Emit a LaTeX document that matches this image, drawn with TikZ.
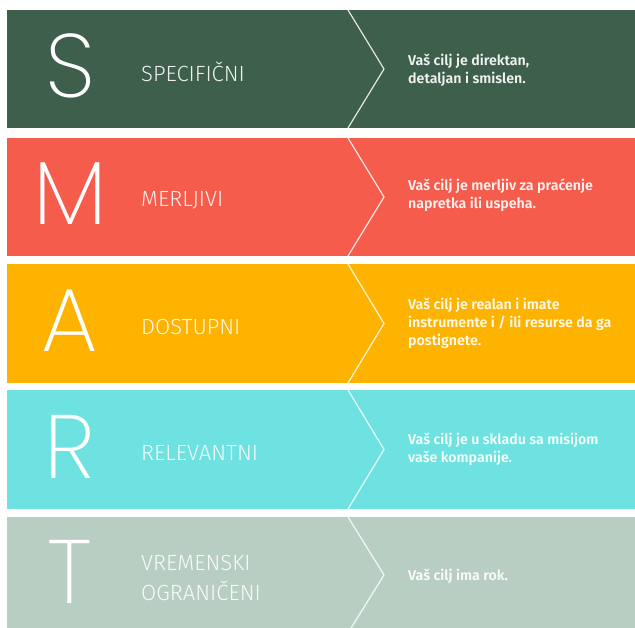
\documentclass[tikz,border=0pt]{standalone}
\usepackage{fontspec}
% thin face for the big letters
\IfFontExistsTF{Poppins ExtraLight}{\newfontfamily\thinf{Poppins ExtraLight}}{%
 \IfFontExistsTF{Poppins Light}{\newfontfamily\thinf{Poppins Light}}{%
  \IfFontExistsTF{Lato Light}{\newfontfamily\thinf{Lato Light}}{%
   \IfFontExistsTF{Fira Sans Light}{\newfontfamily\thinf{Fira Sans Light}}{%
    \IfFontExistsTF{Open Sans Light}{\newfontfamily\thinf{Open Sans Light}}{%
     \newfontfamily\thinf{Fira Sans}}}}}}
% thin face for the band names
\IfFontExistsTF{Fira Sans Light}{\newfontfamily\labf{Fira Sans Light}}{%
 \IfFontExistsTF{Lato Light}{\newfontfamily\labf{Lato Light}}{%
  \IfFontExistsTF{Open Sans Light}{\newfontfamily\labf[FakeStretch=0.9]{Open Sans Light}}{%
   \newfontfamily\labf{Fira Sans}}}}
% semibold face for the descriptions
\IfFontExistsTF{Fira Sans SemiBold}{\newfontfamily\descf{Fira Sans SemiBold}\def\descsel{\descf}}{%
 \newfontfamily\descf{Fira Sans}\def\descsel{\descf\bfseries}}
\definecolor{cS}{HTML}{3E5F4C}
\definecolor{cM}{HTML}{F65C4B}
\definecolor{cA}{HTML}{FDB300}
\definecolor{cR}{HTML}{6DE2E0}
\definecolor{cT}{HTML}{B8CEC2}
\tikzset{
  chev/.style={draw=white, line width=1.2pt, opacity=0.85},
  bigletter/.style={inner sep=0pt, text=white, font=\thinf\fontsize{90}{90}\selectfont},
  bandlabel/.style={inner sep=0pt, anchor=west, align=left, text=white, text opacity=0.9,
    font=\labf\fontsize{22}{30}\selectfont},
  bandtext/.style={inner sep=0pt, anchor=west, align=left, text=white, text opacity=0.92,
    font=\descsel\fontsize{14.2}{18}\selectfont},
}
\newcommand\smartband[9]{% id, colour, top, bottom, chevron bottom, letter, label, text, text shift
  \fill[#2] (7,#3) rectangle (640,#4);
  \pgfmathsetmacro\bmid{(#3+#5)/2}
  \coordinate (#1a) at (348,#3);
  \coordinate (#1b) at (384,\bmid);
  \coordinate (#1c) at (348,#5);
  \draw[chev] (#1a) -- (#1b) -- (#1c);
  \node[bigletter] (#1L) at (70,\bmid-3) {#6};
  \node[bandlabel] (#1N) at (141,\bmid+3) {#7};
  \node[bandtext] (#1D) at (408,\bmid+#9) {#8};
}
\begin{document}
\begin{tikzpicture}[x=1pt,y=-1pt]
\fill[white] (0,0) rectangle (635,628);
\useasboundingbox (0,0) rectangle (635,628);
\smartband{s}{cS}{10}{128}{128}{S}{SPECIFIČNI}{Vaš cilj je direktan,\\detaljan i smislen.}{1}
\smartband{m}{cM}{138}{256}{256}{M}{MERLJIVI}{Vaš cilj je merljiv za praćenje\\napretka ili uspeha.}{-2}
\smartband{a}{cA}{264}{383}{383}{A}{DOSTUPNI}{Vaš cilj je realan i imate\\instrumente i / ili resurse da ga\\postignete.}{0}
\smartband{r}{cR}{390}{509}{509}{R}{RELEVANTNI}{Vaš cilj je u skladu sa misijom\\vaše kompanije.}{0}
\smartband{t}{cT}{517}{640}{633}{T}{VREMENSKI\\OGRANIČENI}{Vaš cilj ima rok.}{1}
\end{tikzpicture}
\end{document}
